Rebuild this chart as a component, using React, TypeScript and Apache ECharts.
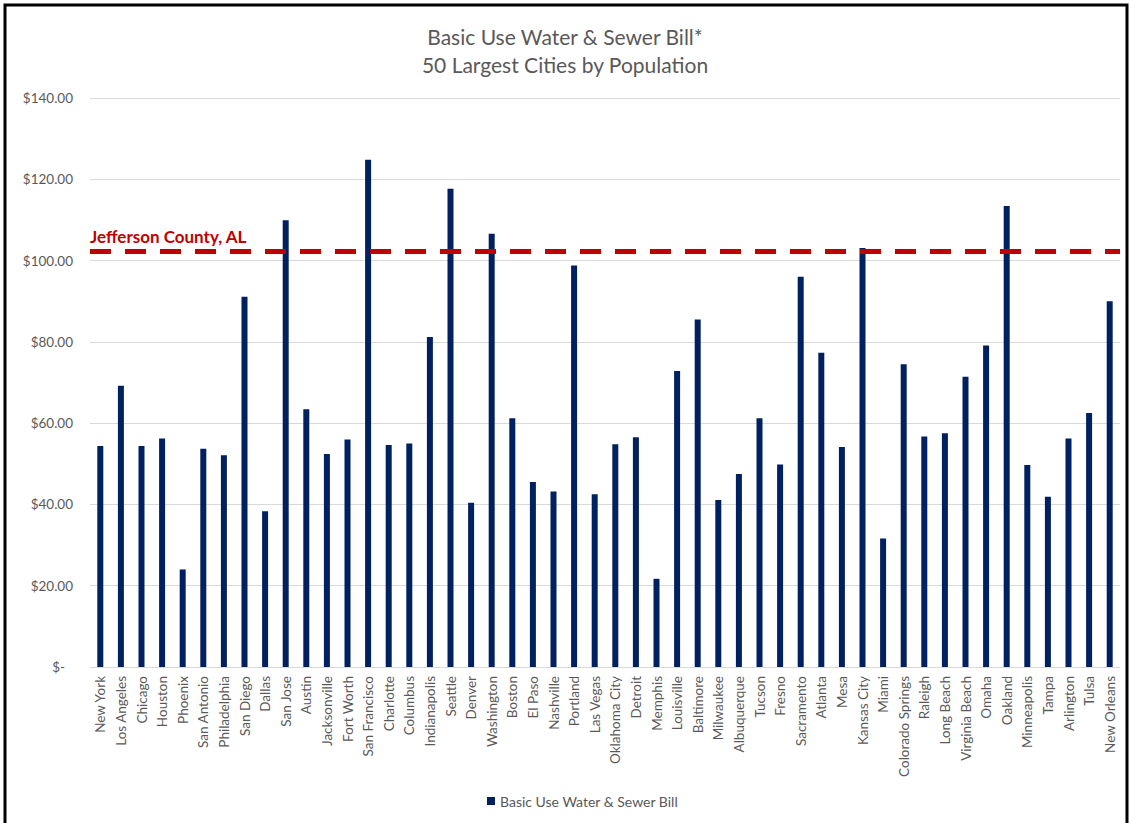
import React, { useEffect, useRef } from "react";
import * as echarts from "echarts";

const cities = [
  "New York", "Los Angeles", "Chicago", "Houston", "Phoenix", "San Antonio", "Philadelphia", "San Diego", "Dallas", "San Jose",
  "Austin", "Jacksonville", "Fort Worth", "San Francisco", "Charlotte", "Columbus", "Indianapolis", "Seattle", "Denver", "Washington",
  "Boston", "El Paso", "Nashville", "Portland", "Las Vegas", "Oklahoma City", "Detroit", "Memphis", "Louisville", "Baltimore",
  "Milwaukee", "Albuquerque", "Tucson", "Fresno", "Sacramento", "Atlanta", "Mesa", "Kansas City", "Miami", "Colorado Springs",
  "Raleigh", "Long Beach", "Virginia Beach", "Omaha", "Oakland", "Minneapolis", "Tampa", "Arlington", "Tulsa", "New Orleans",
];

const bills = [
  54.4, 69.2, 54.4, 56.2, 24.0, 53.7, 52.1, 91.1, 38.3, 109.9,
  63.4, 52.4, 56.0, 124.8, 54.6, 55.0, 81.2, 117.7, 40.4, 106.6,
  61.2, 45.5, 43.2, 98.8, 42.5, 54.8, 56.5, 21.7, 72.8, 85.5,
  41.1, 47.5, 61.2, 49.8, 96.0, 77.3, 54.1, 103.1, 31.6, 74.5,
  56.7, 57.5, 71.4, 79.1, 113.4, 49.7, 41.9, 56.2, 62.5, 90.0,
];

const jeffersonCounty = 102.3;
const seriesName = "Basic Use Water & Sewer Bill";
const titleLines = ["Basic Use Water & Sewer Bill*", "50 Largest Cities by Population"];
const referenceLabel = "Jefferson County, AL";

export default function App() {
  const ref = useRef<HTMLDivElement>(null);
  useEffect(() => {
    if (!ref.current) return;
    const chart = echarts.init(ref.current, null, { renderer: "svg" });
    const font = "Lato, 'Open Sans', sans-serif";
    chart.setOption({
      animation: false,
      backgroundColor: "#ffffff",
      textStyle: { fontFamily: font },
      title: {
        text: titleLines.join("\n"),
        left: "center",
        top: 17,
        textStyle: { fontFamily: font, fontSize: 21, fontWeight: "normal", color: "#595959", lineHeight: 28 },
      },
      legend: {
        bottom: 10,
        left: 482,
        icon: "rect",
        itemWidth: 8,
        itemHeight: 8,
        itemGap: 6,
        textStyle: { fontFamily: font, fontSize: 14, color: "#595959" },
        data: [seriesName],
      },
      grid: { left: 90, right: 10, top: 98, bottom: 156 },
      xAxis: {
        type: "category",
        data: cities,
        axisLine: { lineStyle: { color: "#d9d9d9", width: 1 } },
        axisTick: { show: false },
        axisLabel: { rotate: 90, interval: 0, margin: 9, fontSize: 13.5, color: "#595959", fontFamily: font },
      },
      yAxis: {
        type: "value",
        min: 0,
        max: 140,
        interval: 20,
        axisLine: { show: false },
        axisTick: { show: false },
        splitLine: { lineStyle: { color: "#d9d9d9", width: 1 } },
        axisLabel: {
          margin: 17,
          fontSize: 13.5,
          color: "#595959",
          fontFamily: font,
          formatter: (v: number) => (v === 0 ? "{z|$-}" : "$" + v.toFixed(2)),
          rich: { z: { fontSize: 13.5, color: "#595959", fontFamily: font, padding: [0, 8, 0, 0] } },
        },
      },
      series: [
        {
          name: seriesName,
          type: "bar",
          data: bills,
          barWidth: 6,
          itemStyle: { color: "#002060" },
          markLine: {
            silent: true,
            symbol: ["none", "none"],
            lineStyle: { color: "#C00000", width: 5, type: [21, 14] },
            label: {
              show: true,
              position: "insideStartTop",
              formatter: referenceLabel,
              color: "#C00000",
              fontWeight: "bold",
              fontSize: 17,
              fontFamily: font,
              distance: [0, 6],
            },
            data: [{ yAxis: jeffersonCounty }],
          },
        },
      ],
      graphic: [
        {
          type: "rect",
          shape: { x: 5, y: 5, width: 1122, height: 840 },
          style: { fill: "none", stroke: "#000000", lineWidth: 3 },
          silent: true,
        },
      ],
    });
    return () => chart.dispose();
  }, []);
  return <div ref={ref} style={{ position: "fixed", left: 0, top: 0, width: 1130, height: 823 }} />;
}
